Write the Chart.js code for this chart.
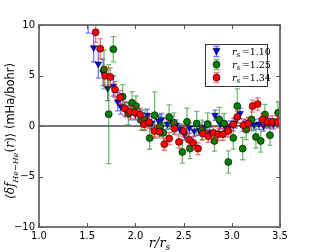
<!DOCTYPE html>
<html>
<head>
<meta charset="utf-8">
<script src="https://cdn.jsdelivr.net/npm/chart.js@4"></script>
<style>
  html, body { margin: 0; padding: 0; background: #fff; }
  canvas { display: block; }
</style>
</head>
<body>
<canvas id="chart" width="312" height="252"></canvas>
<script>
// Axis ticks
const xTicks = [1.0, 1.5, 2.0, 2.5, 3.0, 3.5];
const xTickLabels = ["1.0", "1.5", "2.0", "2.5", "3.0", "3.5"];
const yTicks = [-10, -5, 0, 5, 10];
const yTickLabels = ["\u221210", "\u22125", "0", "5", "10"];

// r_s = 1.10 (blue)
const blueX = [1.51, 1.567, 1.615, 1.664, 1.713, 1.771, 1.816, 1.847, 1.9, 1.95, 2.0, 2.04, 2.08, 2.124, 2.17, 2.24, 2.27, 2.33, 2.376, 2.42, 2.46, 2.51, 2.56, 2.61, 2.66, 2.72, 2.77, 2.826, 2.88, 2.93, 2.98, 3.03, 3.085, 3.13, 3.18, 3.23, 3.28, 3.33, 3.38, 3.43, 3.49];
const blueY = [10.8, 7.76, 6.14, 5.3, 3.72, 3.95, 2.4, 1.97, 1.6, 1.3, 1.2, 1.07, 0.7, 1.07, 0.3, 0.5, 0.64, 0.2, 0.41, 0.1, -0.3, -0.85, -0.2, -0.5, -0.4, -0.1, -0.6, 1.07, 0.2, -0.1, 0.0, 0.3, 1.24, 0.0, 0.3, 0.1, 0.2, 0.0, 0.3, 0.2, 0.41];
const blueErr = [1.6, 1.4, 1.4, 1.3, 1.2, 1.0, 0.9, 0.8, 0.7, 0.7, 0.6, 0.6, 0.6, 0.6, 0.6, 0.6, 0.6, 0.5, 0.5, 0.5, 0.5, 0.5, 0.5, 0.5, 0.5, 0.5, 0.5, 0.5, 0.5, 0.5, 0.5, 0.5, 0.5, 0.5, 0.5, 0.5, 0.5, 0.5, 0.5, 0.5, 0.5];

// r_s = 1.25 (green)
const greenX = [1.674, 1.723, 1.771, 1.868, 1.927, 1.965, 2.006, 2.06, 2.1, 2.148, 2.2, 2.255, 2.29, 2.35, 2.4, 2.487, 2.535, 2.566, 2.636, 2.69, 2.75, 2.82, 2.87, 2.92, 2.964, 3.016, 3.057, 3.113, 3.15, 3.205, 3.25, 3.3, 3.344, 3.396, 3.48];
const greenY = [5.6, 1.17, 7.6, 2.9, 1.24, 2.3, 1.97, 0.58, 0.6, -1.2, 1.07, -0.02, -0.68, 0.9, 0.3, -2.57, 0.41, -2.24, 0.24, -0.42, 0.2, -1.48, 0.64, 0.24, -3.56, -1.18, 1.97, -2.24, -0.35, 0.64, -1.08, -1.48, 1.14, -0.91, 1.3];
const greenErr = [1.9, 4.9, 1.25, 1.2, 1.1, 1.1, 1.0, 1.0, 1.0, 1.1, 2.3, 1.0, 1.0, 1.2, 1.0, 1.1, 1.35, 1.0, 1.2, 1.0, 1.1, 1.0, 1.2, 1.0, 1.1, 1.1, 1.7, 1.1, 1.0, 1.1, 1.1, 1.1, 1.0, 1.0, 1.1];

// r_s = 1.34 (red)
const redX = [1.588, 1.636, 1.685, 1.74, 1.788, 1.84, 1.889, 1.944, 1.996, 2.048, 2.09, 2.14, 2.196, 2.25, 2.3, 2.35, 2.404, 2.452, 2.5, 2.556, 2.6, 2.65, 2.7, 2.756, 2.81, 2.86, 2.91, 2.964, 3.016, 3.057, 3.12, 3.17, 3.216, 3.268, 3.32, 3.37, 3.42, 3.476];
const redY = [9.28, 7.66, 4.98, 4.85, 3.62, 2.83, 1.74, 1.4, 1.34, 1.14, 0.18, 0.38, -0.49, -0.58, -1.8, -1.24, -0.25, -1.58, -0.49, -1.35, -1.68, -2.24, -0.75, -1.01, -0.68, -0.81, -0.81, -0.49, 0.15, 0.9, 0.08, 0.24, 1.97, 2.17, 0.64, 0.41, 0.41, 0.41];
const redErr = [1.0, 1.0, 0.9, 0.9, 0.8, 0.7, 0.7, 0.6, 0.6, 0.6, 0.6, 0.6, 0.6, 0.6, 0.6, 0.6, 0.6, 0.6, 0.6, 0.6, 0.6, 0.6, 0.6, 0.6, 0.6, 0.6, 0.6, 0.6, 0.6, 0.6, 0.6, 0.6, 0.6, 0.6, 0.6, 0.6, 0.6, 0.6];

const seriesLabels = ["1.10", "1.25", "1.34"];

const colors = {
  blue: "#0000ff",
  green: "#007f00",
  red: "#ff0000",
  frame: "#777777",
};

function toPoints(xs, ys) {
  return xs.map((x, i) => ({ x: x, y: ys[i] }));
}

// Error bars, drawn right before each dataset's markers
const errorBars = {
  id: "errorBars",
  beforeDatasetDraw(chart, args) {
    const ds = chart.data.datasets[args.index];
    if (!ds.errors) return;
    const ctx = chart.ctx;
    const xs = chart.scales.x;
    const ys = chart.scales.y;
    const area = chart.chartArea;
    ctx.save();
    ctx.beginPath();
    ctx.rect(area.left, area.top, area.right - area.left, area.bottom - area.top);
    ctx.clip();
    ctx.strokeStyle = ds.errColor;
    ctx.lineWidth = 1.3;
    ds.data.forEach((p, i) => {
      const px = xs.getPixelForValue(p.x);
      const top = ys.getPixelForValue(p.y + ds.errors[i]);
      const bot = ys.getPixelForValue(p.y - ds.errors[i]);
      ctx.beginPath();
      ctx.moveTo(px, top);
      ctx.lineTo(px, bot);
      ctx.moveTo(px - 2.5, top);
      ctx.lineTo(px + 2.5, top);
      ctx.moveTo(px - 2.5, bot);
      ctx.lineTo(px + 2.5, bot);
      ctx.stroke();
    });
    ctx.restore();
  },
};

// Frame, zero line, inward ticks, axis labels and legend
const decorations = {
  id: "decorations",
  beforeDatasetsDraw(chart) {
    const ctx = chart.ctx;
    const a = chart.chartArea;
    const y0 = chart.scales.y.getPixelForValue(0);
    ctx.save();
    ctx.strokeStyle = colors.frame;
    ctx.lineWidth = 2;
    ctx.beginPath();
    ctx.moveTo(a.left, y0);
    ctx.lineTo(a.right, y0);
    ctx.stroke();
    ctx.restore();
  },
  afterDraw(chart) {
    const ctx = chart.ctx;
    const a = chart.chartArea;
    const xs = chart.scales.x;
    const ys = chart.scales.y;
    ctx.save();
    ctx.strokeStyle = colors.frame;
    ctx.lineWidth = 2;
    ctx.strokeRect(a.left, a.top, a.right - a.left, a.bottom - a.top);

    ctx.lineWidth = 1;
    ctx.strokeStyle = "#555";
    ctx.beginPath();
    xTicks.forEach((v) => {
      const px = Math.round(xs.getPixelForValue(v)) + 0.5;
      ctx.moveTo(px, a.bottom);
      ctx.lineTo(px, a.bottom - 4);
      ctx.moveTo(px, a.top);
      ctx.lineTo(px, a.top + 4);
    });
    yTicks.forEach((v) => {
      const py = Math.round(ys.getPixelForValue(v)) + 0.5;
      ctx.moveTo(a.left, py);
      ctx.lineTo(a.left + 4, py);
      ctx.moveTo(a.right, py);
      ctx.lineTo(a.right - 4, py);
    });
    ctx.stroke();

    // x label: r/r_s
    ctx.fillStyle = "#000";
    ctx.textBaseline = "alphabetic";
    ctx.font = "italic 13px 'DejaVu Serif'";
    const main = "r/r";
    const wMain = ctx.measureText(main).width;
    ctx.font = "italic 9px 'DejaVu Serif'";
    const wSub = ctx.measureText("s").width;
    let lx = (a.left + a.right) / 2 - (wMain + wSub) / 2;
    ctx.font = "italic 13px 'DejaVu Serif'";
    ctx.fillText(main, lx, 247);
    ctx.font = "italic 9px 'DejaVu Serif'";
    ctx.fillText("s", lx + wMain, 250);

    // y label: <δf_{He-He}(r)> (mHa/bohr)
    const parts = [
      { t: "\u27E8\u03B4f", f: "italic 12px 'DejaVu Serif'", dy: 0 },
      { t: "He\u2212He", f: "italic 8px 'DejaVu Serif'", dy: 3.5 },
      { t: "(", f: "12px 'DejaVu Serif'", dy: 0 },
      { t: "r", f: "italic 12px 'DejaVu Serif'", dy: 0 },
      { t: ")\u27E9", f: "12px 'DejaVu Serif'", dy: 0 },
      { t: " (mHa/bohr)", f: "11.5px 'DejaVu Sans'", dy: 0 },
    ];
    let total = 0;
    parts.forEach((p) => {
      ctx.font = p.f;
      p.w = ctx.measureText(p.t).width;
      total += p.w;
    });
    ctx.translate(14, 131);
    ctx.rotate(-Math.PI / 2);
    let cx = -total / 2;
    parts.forEach((p) => {
      ctx.font = p.f;
      ctx.fillText(p.t, cx, p.dy);
      cx += p.w;
    });
    ctx.setTransform(1, 0, 0, 1, 0, 0);

    // legend
    const lgLeft = 205, lgTop = 44, lgW = 62, lgH = 42;
    ctx.fillStyle = "#fff";
    ctx.fillRect(lgLeft, lgTop, lgW, lgH);
    ctx.strokeStyle = "#333";
    ctx.lineWidth = 1;
    ctx.strokeRect(lgLeft + 0.5, lgTop + 0.5, lgW, lgH);
    chart.data.datasets.forEach((ds, i) => {
      const my = 51.5 + i * 13;
      const mx = 216.5;
      ctx.strokeStyle = ds.errColor;
      ctx.lineWidth = 1.3;
      ctx.beginPath();
      ctx.moveTo(mx, my - 5);
      ctx.lineTo(mx, my + 5);
      ctx.moveTo(mx - 3, my - 5);
      ctx.lineTo(mx + 3, my - 5);
      ctx.moveTo(mx - 3, my + 5);
      ctx.lineTo(mx + 3, my + 5);
      ctx.stroke();
      ctx.fillStyle = ds.backgroundColor;
      ctx.strokeStyle = "#000";
      ctx.lineWidth = 0.6;
      ctx.beginPath();
      if (ds.pointStyle === "triangle") {
        ctx.moveTo(mx - 3.5, my - 3);
        ctx.lineTo(mx + 3.5, my - 3);
        ctx.lineTo(mx, my + 3.5);
        ctx.closePath();
      } else {
        ctx.arc(mx, my, 3.5, 0, Math.PI * 2);
      }
      ctx.fill();
      ctx.stroke();

      ctx.fillStyle = "#000";
      ctx.font = "italic 10px 'DejaVu Serif'";
      ctx.fillText("r", 232, my + 3.5);
      const rw = ctx.measureText("r").width;
      ctx.font = "italic 7px 'DejaVu Serif'";
      ctx.fillText("s", 232 + rw, my + 5.5);
      ctx.font = "9.5px 'DejaVu Serif'";
      ctx.fillText("=" + seriesLabels[i], 232 + rw + 5, my + 3.5);
    });
    ctx.restore();
  },
};

function makeDataset(label, xs, ys, errs, color, errColor, style, order) {
  return {
    label: label,
    data: toPoints(xs, ys),
    errors: errs,
    errColor: errColor,
    backgroundColor: color,
    borderColor: "#000",
    borderWidth: 0.6,
    pointStyle: style,
    pointRotation: style === "triangle" ? 180 : 0,
    pointRadius: style === "triangle" ? 3.8 : 3.5,
    showLine: false,
    order: order,
  };
}

const ctx = document.getElementById("chart").getContext("2d");

new Chart(ctx, {
  type: "scatter",
  data: {
    datasets: [
      makeDataset("1.10", blueX, blueY, blueErr, colors.blue, "rgba(0,0,255,0.55)", "triangle", 3),
      makeDataset("1.25", greenX, greenY, greenErr, colors.green, "rgba(0,128,0,0.55)", "circle", 2),
      makeDataset("1.34", redX, redY, redErr, colors.red, "rgba(255,0,0,0.55)", "circle", 1),
    ],
  },
  options: {
    responsive: false,
    animation: false,
    devicePixelRatio: 1,
    layout: { padding: { top: 25, right: 32, left: 0, bottom: 0 } },
    plugins: {
      legend: { display: false },
      tooltip: { enabled: false },
    },
    scales: {
      x: {
        type: "linear",
        min: 1,
        max: 3.5,
        afterBuildTicks: (s) => { s.ticks = xTicks.map((v) => ({ value: v })); },
        afterFit: (s) => { s.height = 25; },
        ticks: {
          callback: (v, i) => xTickLabels[i],
          font: { family: "DejaVu Sans", size: 10 },
          color: "#000",
          padding: 3,
          maxRotation: 0,
        },
        grid: { drawOnChartArea: false, drawTicks: false },
        border: { display: false },
      },
      y: {
        type: "linear",
        min: -10,
        max: 10,
        afterBuildTicks: (s) => { s.ticks = yTicks.map((v) => ({ value: v })); },
        afterFit: (s) => { s.width = 39; },
        ticks: {
          callback: (v, i) => yTickLabels[i],
          font: { family: "DejaVu Sans", size: 10 },
          color: "#000",
          padding: 4,
        },
        grid: { drawOnChartArea: false, drawTicks: false },
        border: { display: false },
      },
    },
  },
  plugins: [errorBars, decorations],
});
</script>
</body>
</html>
